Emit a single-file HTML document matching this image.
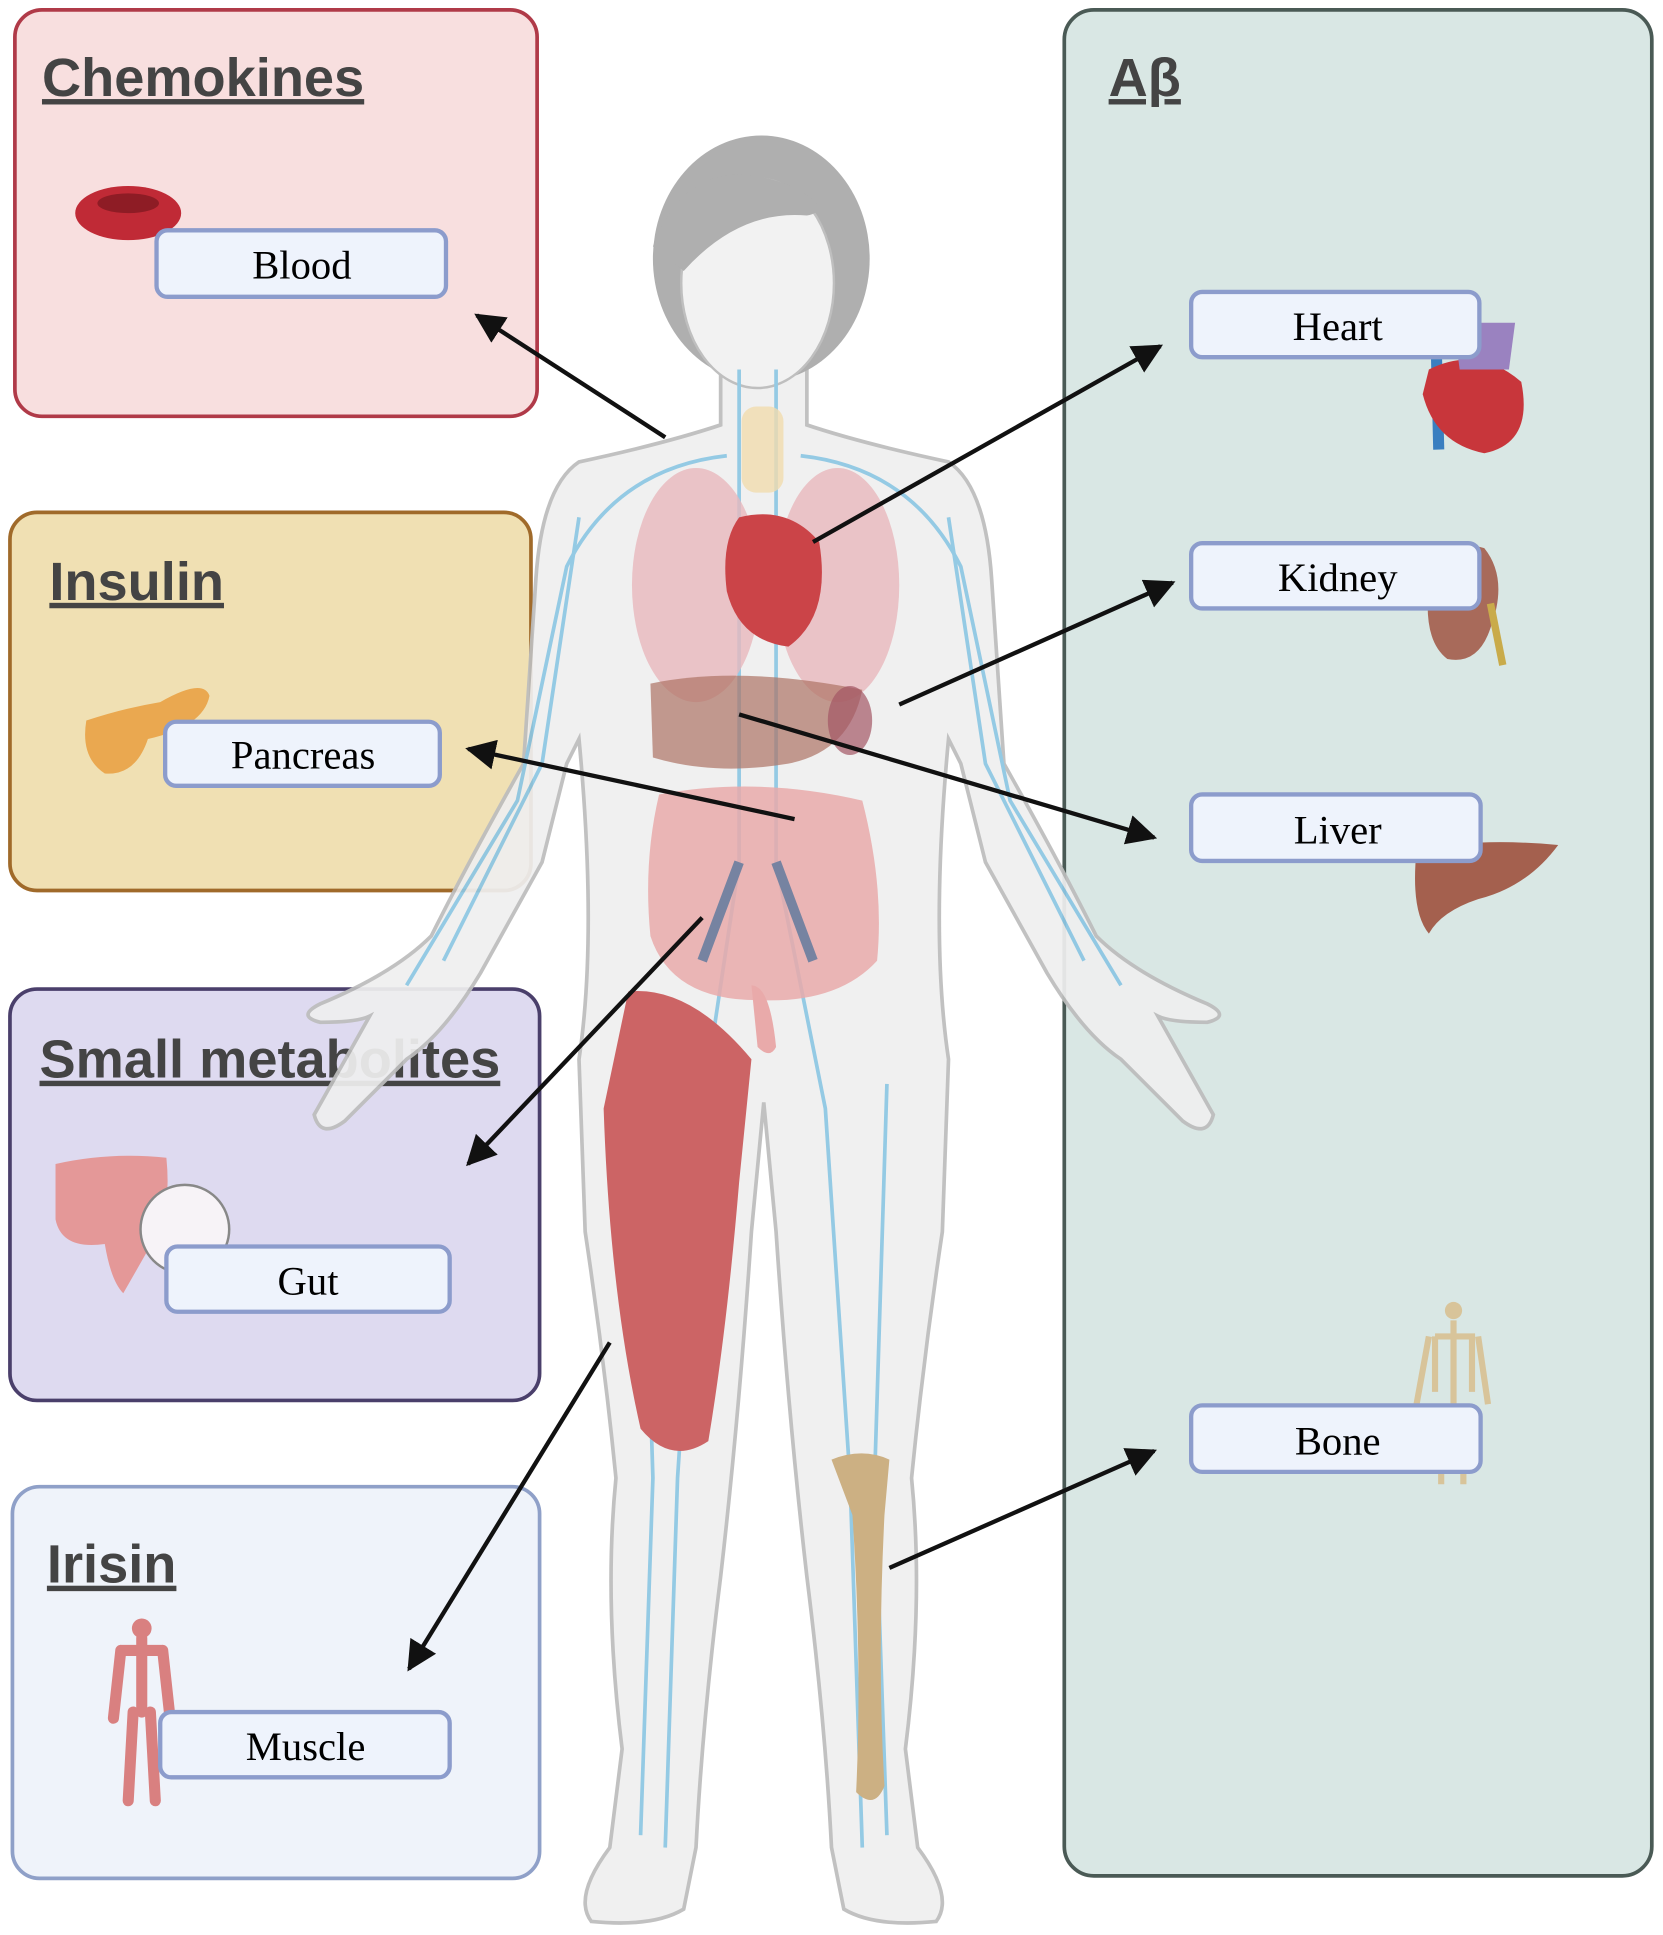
<!DOCTYPE html>
<html><head><meta charset="utf-8"><style>
html,body{margin:0;padding:0;background:#fff;}
svg{display:block;}
.t{font-family:"Liberation Sans",sans-serif;font-weight:bold;fill:#444;text-decoration:underline;}
.l{font-family:"Liberation Serif",serif;fill:#000;font-size:33px;text-anchor:middle;}
</style></head><body>
<svg width="1663" height="1935" viewBox="0 0 1350 1571" xmlns="http://www.w3.org/2000/svg">
<defs>
<marker id="a" viewBox="0 0 10 10" refX="9" refY="5" markerWidth="7" markerHeight="7" orient="auto-start-reverse"><path d="M0,0L10,5L0,10z" fill="#111"/></marker>
</defs>
<rect x="12" y="8" width="424" height="330" rx="22" fill="#f8dfdf" stroke="#b03a48" stroke-width="3"/>
<rect x="8" y="416" width="423" height="307" rx="22" fill="#f0e0b3" stroke="#a06a2a" stroke-width="3"/>
<rect x="8" y="803" width="430" height="334" rx="22" fill="#dedaf0" stroke="#4a3f6b" stroke-width="3"/>
<rect x="10" y="1207" width="428" height="318" rx="22" fill="#eff3fa" stroke="#8fa0c8" stroke-width="3"/>
<rect x="864" y="8" width="477" height="1515" rx="24" fill="#d9e7e4" stroke="#4a5a55" stroke-width="3"/>
<text class="t" x="34" y="78" font-size="44">Chemokines</text>
<text class="t" x="40" y="487" font-size="44">Insulin</text>
<text class="t" x="32" y="875" font-size="44">Small metabolites</text>
<text class="t" x="38" y="1285" font-size="44">Irisin</text>
<text class="t" x="900" y="78" font-size="44">Aβ</text>

<g opacity="0.93">
<path d="M585,300 L585,345 Q540,360 470,375 Q440,395 435,470 L425,620 Q380,700 350,760 Q320,790 260,815 Q240,825 260,830 Q290,830 300,825 L255,905 Q260,925 280,910 L330,860 Q360,840 390,790 L440,700 L460,620 L470,600 Q485,760 470,860 L475,1000 Q490,1100 500,1200 Q490,1300 505,1420 L495,1500 Q465,1540 480,1560 Q530,1565 555,1550 L565,1500 Q570,1400 585,1280 Q600,1150 610,1000 L620,895 L630,1000 Q640,1150 655,1280 Q670,1400 675,1500 L685,1550 Q710,1565 760,1560 Q775,1540 745,1500 L735,1420 Q750,1300 740,1200 Q750,1100 765,1000 L770,860 Q755,760 770,600 L780,620 L800,700 L850,790 Q880,840 910,860 L960,910 Q980,925 985,905 L940,825 Q950,830 980,830 Q1000,825 980,815 Q920,790 890,760 Q860,700 815,620 L805,470 Q800,395 770,375 Q700,360 655,345 L655,300 Z" fill="#efefef" stroke="#bdbdbd" stroke-width="3"/>
<ellipse cx="618" cy="210" rx="88" ry="100" fill="#a9a9a9"/>
<ellipse cx="615" cy="230" rx="62" ry="85" fill="#f2f2f2" stroke="#bbb" stroke-width="2"/>
<path d="M530,200 Q560,120 640,150 Q680,170 655,175 Q600,170 555,220 Z" fill="#a9a9a9"/>
<g fill="none" stroke="#8cc6e3" stroke-width="3">
<path d="M600,300 L600,700 L570,900 L550,1200 L540,1500"/><path d="M630,300 L630,700 L670,900 L690,1200 L700,1500"/>
<path d="M590,370 Q500,380 460,460 L420,650 L330,800"/><path d="M650,370 Q740,380 780,460 L820,650 L910,800"/>
<path d="M470,420 L440,620 L360,780"/><path d="M770,420 L800,620 L880,780"/>
<path d="M520,880 L530,1200 L520,1490"/><path d="M720,880 L710,1200 L720,1490"/>
</g>
<rect x="602" y="330" width="34" height="70" rx="12" fill="#f0d9a8" opacity="0.8"/>
<ellipse cx="565" cy="475" rx="52" ry="95" fill="#e7b3b8" opacity="0.8"/>
<ellipse cx="680" cy="475" rx="50" ry="95" fill="#e7b3b8" opacity="0.8"/>
<path d="M600,420 Q640,410 665,440 Q675,500 640,525 Q600,520 590,480 Q585,440 600,420Z" fill="#c8363b"/>
<path d="M528,555 Q600,540 700,560 Q690,610 640,620 Q580,630 530,615Z" fill="#a86a5a" opacity="0.7"/>
<ellipse cx="690" cy="585" rx="18" ry="28" fill="#9c4a5a" opacity="0.7"/>
<path d="M535,645 Q615,630 700,650 Q718,720 712,780 Q680,815 615,812 Q545,812 528,760 Q522,700 535,645Z" fill="#e8a4a4" opacity="0.85"/>
<path d="M610,800 Q625,800 630,850 Q625,860 615,850Z" fill="#e8a4a4"/>
<path d="M600,700 L570,780 M630,700 L660,780" stroke="#6c7a9a" stroke-width="8" fill="none"/>
<path d="M510,805 Q560,800 610,860 L600,960 Q590,1080 575,1170 Q545,1190 520,1160 Q495,1050 490,900 Z" fill="#c9595a"/>
<path d="M675,1185 Q700,1175 722,1185 L718,1230 Q712,1350 718,1450 Q710,1470 695,1455 Q700,1350 692,1230 Z" fill="#c9ab7a"/>
</g>

<g stroke="#111" stroke-width="3.5" fill="none" marker-end="url(#a)">
<line x1="540" y1="355" x2="387" y2="256"/>
<line x1="660" y1="440" x2="942" y2="281"/>
<line x1="730" y1="572" x2="952" y2="473"/>
<line x1="600" y1="580" x2="937" y2="680"/>
<line x1="645" y1="665" x2="380" y2="608"/>
<line x1="570" y1="745" x2="380" y2="945"/>
<line x1="495" y1="1090" x2="332" y2="1355"/>
<line x1="722" y1="1273" x2="937" y2="1178"/>
</g>

<ellipse cx="104" cy="173" rx="43" ry="22" fill="#c02a36"/><ellipse cx="104" cy="165" rx="25" ry="8" fill="#8e1c25"/>
<path d="M70,585 Q100,575 130,570 Q165,550 170,565 Q165,590 120,600 Q110,630 85,628 Q65,615 70,585Z" fill="#eaa850"/>
<path d="M45,945 Q90,935 135,940 Q140,990 120,1015 L100,1050 Q90,1040 85,1010 Q50,1015 45,990Z" fill="#e49898"/>
<circle cx="150" cy="998" r="36" fill="#f7f3f7" stroke="#888" stroke-width="2"/>
<circle cx="115" cy="1322" r="8" fill="#d98080"/>
<path d="M115,1330 L115,1390 M98,1340 L132,1340 M98,1340 L92,1395 M132,1340 L138,1395 M108,1390 L104,1462 M122,1390 L126,1462" stroke="#d98080" stroke-width="9" fill="none" stroke-linecap="round"/>
<path d="M1165,240 L1168,365" stroke="#3a7fc0" stroke-width="9"/>
<path d="M1160,300 Q1200,280 1235,310 Q1245,360 1205,368 Q1165,360 1155,320Z" fill="#c8363b"/>
<path d="M1180,262 L1230,262 L1225,300 L1185,300Z" fill="#9a82c0"/>
<path d="M1160,475 Q1170,435 1205,445 Q1225,470 1210,510 Q1200,540 1175,535 Q1155,520 1160,475Z" fill="#a86a5a"/>
<path d="M1210,490 L1220,540" stroke="#c9ab4a" stroke-width="6"/>
<path d="M1150,690 Q1200,680 1265,686 Q1240,720 1200,730 Q1170,740 1160,758 Q1145,740 1150,690Z" fill="#a4604e"/>
<circle cx="1180" cy="1064" r="7" fill="#d8c49a"/>
<path d="M1180,1072 L1180,1140 M1165,1085 L1195,1085 L1195,1130 M1165,1085 L1165,1130 M1170,1140 L1170,1205 M1188,1140 L1188,1205 M1160,1085 L1150,1140 M1200,1085 L1208,1140" stroke="#d8c49a" stroke-width="5" fill="none"/>

<g fill="#eef3fc" stroke="#8c9ccc" stroke-width="3.5">
<rect x="127" y="187" width="235" height="54" rx="9"/>
<rect x="134" y="586" width="223" height="52" rx="9"/>
<rect x="135" y="1012" width="230" height="53" rx="9"/>
<rect x="130" y="1390" width="235" height="53" rx="9"/>
<rect x="967" y="237" width="234" height="53" rx="9"/>
<rect x="967" y="441" width="234" height="53" rx="9"/>
<rect x="967" y="645" width="235" height="54" rx="9"/>
<rect x="967" y="1141" width="235" height="54" rx="9"/>
</g>
<text class="l" x="245" y="226">Blood</text>
<text class="l" x="246" y="624">Pancreas</text>
<text class="l" x="250" y="1051">Gut</text>
<text class="l" x="248" y="1429">Muscle</text>
<text class="l" x="1086" y="276">Heart</text>
<text class="l" x="1086" y="480">Kidney</text>
<text class="l" x="1086" y="685">Liver</text>
<text class="l" x="1086" y="1181">Bone</text>
</svg>
</body></html>
